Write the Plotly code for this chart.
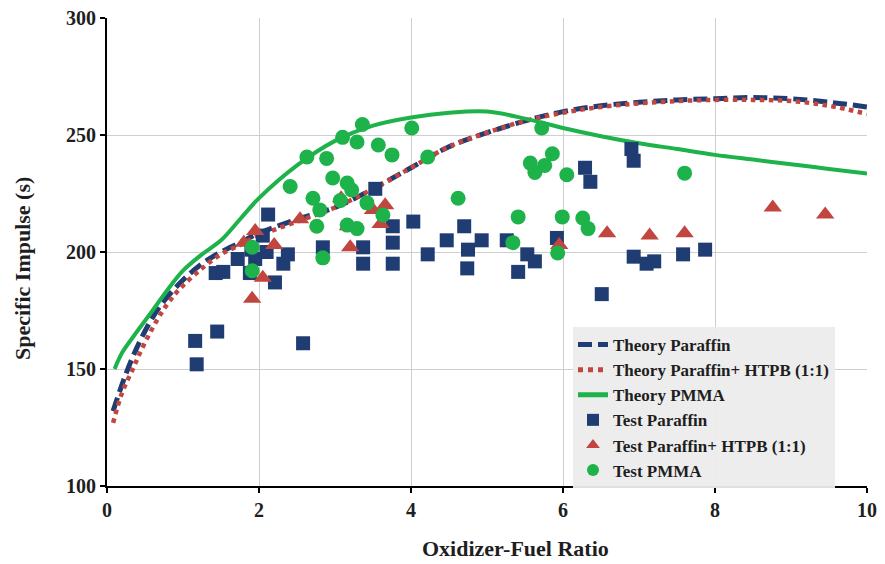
import plotly.graph_objects as go

# Theory curves
theory_par_x = [0.08, 0.25, 0.45, 0.7, 1.0, 1.25, 1.5, 1.75, 2.0, 2.5, 3.0, 3.5, 4.0, 4.5, 5.0, 5.5, 6.0, 6.5, 7.0, 7.5, 8.0, 8.5, 9.0, 9.5, 10.0]
theory_par_y = [132, 148, 163, 177, 188, 195, 200, 204, 208, 214, 219, 227, 236, 245, 251, 256, 260, 262.5, 264, 265, 265.5, 266, 265.5, 264, 262]

theory_htpb_x = [0.08, 0.2, 0.34, 0.45, 0.66, 0.8, 0.95, 1.25, 1.5, 1.75, 2.0, 2.5, 3.0, 3.5, 4.0, 4.5, 5.0, 5.5, 6.0, 6.5, 7.0, 7.5, 8.0, 8.5, 9.0, 9.5, 10.0]
theory_htpb_y = [127, 140, 150, 158, 171, 178, 184, 193, 199, 203, 207, 213, 219, 227, 236, 245, 251, 256, 259.5, 262, 263.5, 264.5, 265, 265, 264.5, 262.5, 259]

theory_pmma_x = [0.1, 0.2, 0.35, 0.6, 0.8, 1.0, 1.25, 1.5, 1.75, 2.0, 2.5, 3.0, 3.5, 4.0, 4.5, 5.0, 5.5, 6.0, 6.5, 7.0, 7.5, 8.0, 8.5, 9.0, 9.5, 10.0]
theory_pmma_y = [150, 157, 164, 175, 184, 192, 199, 205, 214, 223, 237, 247.5, 254, 257.5, 259.5, 260, 257, 253, 249.5, 246.5, 244, 241.5, 239.5, 237.5, 235.5, 233.5]

# Test data
test_par_x = [1.16, 1.18, 1.45, 1.43, 1.53, 1.72, 1.88, 1.95, 2.1, 2.12, 2.05, 1.9, 2.21, 2.32, 2.38, 2.58, 2.84, 3.37, 3.37, 3.53, 3.76, 3.76, 3.76, 4.03, 4.22, 4.47, 4.7, 4.75, 4.74, 4.93, 5.26, 5.41, 5.53, 5.63, 5.92, 6.29, 6.36, 6.51, 6.9, 6.93, 6.93, 7.1, 7.2, 7.58, 7.87]
test_par_y = [162, 152, 166, 191, 191.5, 197, 191, 197, 200, 216, 207, 201, 187, 195, 199, 161, 202, 202, 195, 227, 211, 204, 195, 213, 199, 205, 211, 201, 193, 205, 205, 191.5, 199, 196, 206, 236, 230, 182, 244, 239, 198, 195, 196, 199, 201]

test_htpb_x = [1.91, 1.8, 1.95, 2.2, 2.05, 2.54, 3.08, 3.17, 3.2, 3.5, 3.6, 3.66, 5.95, 6.58, 7.14, 7.6, 8.76, 9.45]
test_htpb_y = [180, 204, 209, 203, 189, 214, 223, 211, 202, 218, 212, 220, 203, 208, 207, 208, 219, 216]

test_pmma_x = [1.91, 1.91, 2.41, 2.63, 2.89, 2.71, 2.8, 2.76, 2.84, 2.97, 3.1, 3.07, 3.16, 3.22, 3.29, 3.16, 3.29, 3.36, 3.42, 3.57, 3.63, 3.75, 4.01, 4.22, 4.62, 5.34, 5.41, 5.57, 5.63, 5.72, 5.76, 5.86, 5.93, 5.99, 6.05, 6.26, 6.33, 7.6]
test_pmma_y = [202, 192, 228, 240.6, 240, 223, 218, 211, 197.5, 231.6, 249, 222, 229.5, 226.5, 247, 211.5, 210, 254.5, 221, 245.7, 215.8, 241.5, 253, 240.6, 223, 204, 215, 238, 234, 253, 237, 242, 199.6, 215, 233, 214.5, 210, 233.7]

x_title = "Oxidizer-Fuel Ratio"
y_title = "Specific Impulse (s)"

NAVY = "#1f3c73"
RED = "#c0463f"
GREEN = "#1eb24b"
FONT = "Liberation Serif"
TXT = "#1e1e1e"

fig = go.Figure()
fig.add_trace(go.Scatter(x=theory_par_x, y=theory_par_y, mode="lines", name="Theory Paraffin",
                         line=dict(color=NAVY, width=5, dash="14px,6px"), line_shape="spline"))
fig.add_trace(go.Scatter(x=theory_htpb_x, y=theory_htpb_y, mode="lines", name="Theory Paraffin+ HTPB (1:1)",
                         line=dict(color=RED, width=4.5, dash="dot"), line_shape="spline"))
fig.add_trace(go.Scatter(x=theory_pmma_x, y=theory_pmma_y, mode="lines", name="Theory PMMA",
                         line=dict(color=GREEN, width=4), line_shape="spline"))
fig.add_trace(go.Scatter(x=test_par_x, y=test_par_y, mode="markers", name="Test Paraffin",
                         marker=dict(symbol="square", color=NAVY, size=14)))
fig.add_trace(go.Scatter(x=test_htpb_x, y=test_htpb_y, mode="markers", name="Test Paraffin+ HTPB (1:1)",
                         marker=dict(symbol="triangle-up", color=RED, size=16)))
fig.add_trace(go.Scatter(x=test_pmma_x, y=test_pmma_y, mode="markers", name="Test PMMA",
                         marker=dict(symbol="circle", color=GREEN, size=15)))

axis_common = dict(showline=True, linecolor="black", linewidth=2, ticks="outside", tickwidth=2,
                   ticklen=5, tickcolor="black", showgrid=True, gridcolor="#cfcfcf", gridwidth=1,
                   zeroline=False, automargin=False,
                   tickfont=dict(family=FONT, size=20, color=TXT, weight="bold"))

fig.update_xaxes(range=[0, 10], dtick=2, **axis_common)
fig.update_yaxes(range=[100, 300], dtick=50, **axis_common)

title_font = dict(family=FONT, size=22, color=TXT, weight="bold")
fig.add_annotation(text=x_title, xref="paper", yref="paper", x=(515 - 107) / 760, y=-(548 - 486) / 468,
                   xanchor="center", yanchor="middle", showarrow=False, font=title_font)
fig.add_annotation(text=y_title, xref="paper", yref="paper", x=-(107 - 22) / 760, y=(486 - 269) / 468,
                   xanchor="center", yanchor="middle", showarrow=False, textangle=-90, font=title_font)

fig.update_layout(
    width=885, height=564,
    margin=dict(l=107, r=18, t=18, b=78),
    paper_bgcolor="white", plot_bgcolor="white",
    showlegend=True,
    legend=dict(x=(573 - 107) / 760, y=(486 - 327) / 468, xanchor="left", yanchor="top",
                bgcolor="rgba(236,236,236,0.95)", borderwidth=0,
                font=dict(family=FONT, size=17, color=TXT, weight="bold"),
                itemsizing="constant", tracegroupgap=0),
)

fig.write_html("out.html", config={"displayModeBar": False},
               post_script="document.body.style.margin='0';")
